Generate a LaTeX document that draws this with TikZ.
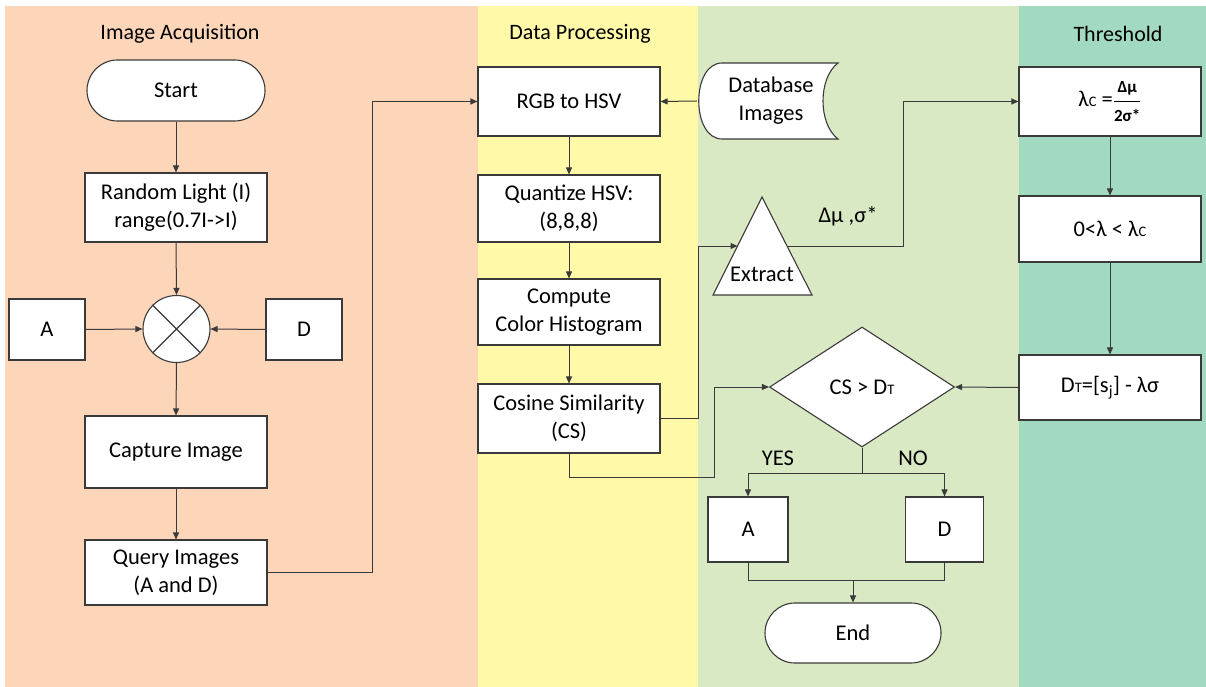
\documentclass[tikz,border=0pt]{standalone}
\usepackage{fontspec}
\setmainfont{Carlito}
\usepackage{amsmath}
\usetikzlibrary{shapes.geometric,shapes.misc,arrows.meta}
\definecolor{bgA}{RGB}{253,213,185}
\definecolor{bgB}{RGB}{255,249,168}
\definecolor{bgC}{RGB}{217,233,196}
\definecolor{bgD}{RGB}{162,218,193}
\definecolor{ln}{RGB}{58,58,58}
\newcommand{\sml}[1]{{\fontsize{14.5}{14.5}\selectfont #1}}
\newcommand{\frc}[1]{\text{\fontsize{17}{17}\selectfont\bfseries #1}}
\begin{document}
\begin{tikzpicture}[x=1pt,y=-1pt,
  every node/.style={font=\fontsize{22.5}{28}\selectfont, text=black},
  box/.style={draw=ln, fill=white, line width=1.1pt, align=center, inner sep=2pt},
  term/.style={box, rounded rectangle},
  hdr/.style={font=\fontsize{22}{26}\selectfont},
  arr/.style={draw=ln, line width=1pt, -{Triangle[length=7pt,width=6pt]}},
  con/.style={draw=ln, line width=1pt}]
\useasboundingbox (0,0) rectangle (1206,687);
% bands
\fill[white] (0,0) rectangle (1206,687);
\fill[bgA] (5,6) rectangle (478,687);
\fill[bgB] (478,6) rectangle (698,687);
\fill[bgC] (698,6) rectangle (1019,687);
\fill[bgD] (1019,6) rectangle (1206,687);
% headers
\node[hdr] (h1) at (180,34) {Image Acquisition};
\node[hdr] (h2) at (580,34) {Data Processing};
\node[hdr] (h4) at (1118,34) {Threshold};
% column 1
\node[term, minimum width=182, minimum height=61] (start) at (176,90.5) {Start};
\node[box, minimum width=182, minimum height=69] (rl) at (176,207.5) {Random Light (I)\\range(0.7I->I)};
\node[draw=ln, fill=white, line width=1.1pt, circle, minimum size=67, inner sep=0] (mix) at (176.5,329) {};
\draw[ln, line width=1.1pt] (mix.north west) -- (mix.south east) (mix.north east) -- (mix.south west);
\node[box, minimum width=76, minimum height=61] (a1) at (47,329.5) {A};
\node[box, minimum width=76, minimum height=61] (d1) at (304,329.5) {D};
\node[box, minimum width=182, minimum height=72] (cap) at (176,452) {Capture Image};
\node[box, minimum width=182, minimum height=65] (qry) at (176,572.5) {Query Images\\(A and D)};
% column 2
\node[box, minimum width=182, minimum height=69] (rgb) at (569,101.5) {RGB to HSV};
\node[box, minimum width=182, minimum height=67] (qnt) at (569,208.5) {Quantize HSV:\\(8,8,8)};
\node[box, minimum width=182, minimum height=66] (hist) at (569,312) {Compute\\Color Histogram};
\node[box, minimum width=182, minimum height=69] (cs) at (569,418.5) {Cosine Similarity\\(CS)};
% database (stored data shape)
\node[minimum width=138, minimum height=76, inner sep=0, align=center] (db) at (766,101) {};
\draw[ln, fill=white, line width=1.1pt]
  (722,63) -- (838,63) .. controls (818,78) and (818,124) .. (838,139)
  -- (722,139) .. controls (691,139) and (691,63) .. (722,63) -- cycle;
\node[align=center] (dbt) at (771,101) {Database\\Images};
% extract triangle
\draw[ln, fill=white, line width=1.1pt] (713,295) -- (762,197) -- (812,295) -- cycle;
\node (extract) at (762,274) {Extract};
\coordinate (exin) at (737.5,246);
\coordinate (exout) at (787.5,246);
\node (dmu) at (848,216) {Δμ ,σ*};
% decision
\node[draw=ln, fill=white, line width=1.1pt, diamond, aspect=1.5, minimum width=185, minimum height=120, inner sep=0] (dec) at (862,387) {CS > D\sml{T}};
\node[box, minimum width=80, minimum height=65] (ra) at (748,529.5) {A};
\node[box, minimum width=78, minimum height=65] (rd) at (944.5,529.5) {D};
\node[term, minimum width=180, minimum height=60] (end) at (853,633) {End};
\node (yes) at (778,458) {YES};
\node (no) at (913,458) {NO};
% threshold column
\node[box, minimum width=182, minimum height=69] (lam) at (1110,101.5) {λ\sml{C} =$\dfrac{\frc{Δμ}}{\frc{2σ*}}$};
\node[box, minimum width=182, minimum height=66] (rng) at (1110,229) {0<λ < λ\sml{C}};
\node[box, minimum width=182, minimum height=65] (dt) at (1110,387.5) {D\sml{T}=[s\textsubscript{j}] - λσ};
% connectors
\draw[arr] (start.south) -- (rl.north);
\draw[arr] (rl.south) -- (mix.north);
\draw[arr] (a1.east) -- (mix.west);
\draw[arr] (d1.west) -- (mix.east);
\draw[arr] (mix.south) -- (cap.north);
\draw[arr] (cap.south) -- (qry.north);
\draw[arr] (qry.east) -- ++(105,0) |- (rgb.west);
\draw[arr] (db.west) -- (rgb.east);
\draw[arr] (rgb.south) -- (qnt.north);
\draw[arr] (qnt.south) -- (hist.north);
\draw[arr] (hist.south) -- (cs.north);
\draw[arr] (cs.east) -- ++(38,0) |- (exin);
\draw[arr] (cs.south) -- ++(0,24) -- ++(145,0) |- (dec.west);
\draw[arr] (exout) -- ++(115.5,0) |- (lam.west);
\draw[arr] (lam.south) -- (rng.north);
\draw[arr] (rng.south) -- (dt.north);
\draw[arr] (dt.west) -- (dec.east);
\draw[con] (dec.south) -- ++(0,26) coordinate (br);
\draw[arr] (br) -| (ra.north);
\draw[arr] (br) -| (rd.north);
\draw[con] (ra.south) -- ++(0,18) coordinate (jl) -| (rd.south);
\draw[arr] (jl -| end.north) -- (end.north);
\end{tikzpicture}
\end{document}
